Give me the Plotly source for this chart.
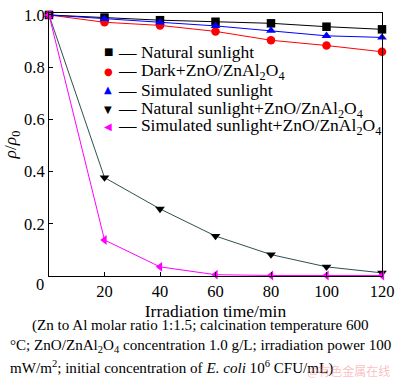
import plotly.graph_objects as go

time_min = [0, 20, 40, 60, 80, 100, 120]
natural = [1.0, 0.99, 0.98, 0.974, 0.968, 0.955, 0.945]
dark_zno = [1.0, 0.972, 0.96, 0.937, 0.903, 0.883, 0.859]
simulated = [1.0, 0.985, 0.972, 0.958, 0.94, 0.92, 0.914]
natural_zno = [1.0, 0.377, 0.257, 0.153, 0.082, 0.035, 0.012]
simulated_zno = [1.0, 0.138, 0.035, 0.005, 0.002, 0.002, 0.002]

legend_names = [
    "Natural sunlight",
    "Dark+ZnO/ZnAl<sub>2</sub>O<sub>4</sub>",
    "Simulated sunlight",
    "Natural sunlight+ZnO/ZnAl<sub>2</sub>O<sub>4</sub>",
    "Simulated sunlight+ZnO/ZnAl<sub>2</sub>O<sub>4</sub>",
]
series_values = [natural, dark_zno, simulated, natural_zno, simulated_zno]
symbols = ["square", "circle", "triangle-up", "triangle-down", "triangle-left"]
glyphs = ["\u25a0", "\u25cf", "\u25b2", "\u25bc", "\u25c0"]
marker_colors = ["black", "red", "blue", "black", "magenta"]
line_colors = ["black", "red", "blue", "#2f4f4f", "magenta"]

FONT = "Liberation Serif, Times New Roman, serif"
L, R, T, B = 49, 13, 6, 105
W, H = 400, 381
PW, PH = W - L - R, H - T - B


def px(x):
    return (x - L) / PW


def py(y):
    return (H - B - y) / PH


fig = go.Figure()
for name, vals, sym, mcol, lcol in zip(legend_names, series_values, symbols, marker_colors, line_colors):
    fig.add_trace(go.Scatter(
        x=time_min, y=vals, mode="lines+markers", name=name, showlegend=False,
        line=dict(color=lcol, width=1),
        marker=dict(symbol=sym, color=mcol, size=8.5),
        cliponaxis=False,
    ))

tickfont = dict(family=FONT, size=16.5, color="black")
fig.update_layout(
    width=W, height=H,
    margin=dict(l=L, r=R, t=T, b=B),
    paper_bgcolor="white", plot_bgcolor="white",
    font=dict(family=FONT, size=17.5, color="black"),
    showlegend=False,
    xaxis=dict(range=[0, 120], tickvals=[20, 40, 60, 80, 100, 120],
               ticks="inside", ticklen=4, tickcolor="black", tickfont=tickfont,
               ticklabeloverflow="allow",
               showline=True, linecolor="black", linewidth=1, mirror=True,
               showgrid=False, zeroline=False,
               title=dict(text="Irradiation time/min", standoff=2,
                          font=dict(family=FONT, size=17.5))),
    yaxis=dict(range=[0, 1.0075], tickvals=[0.2, 0.4, 0.6, 0.8, 1.0],
               ticktext=["0.2", "0.4", "0.6", "0.8", "1.0"],
               ticks="inside", ticklen=4, tickcolor="black", tickfont=tickfont,
               ticklabeloverflow="allow",
               showline=True, linecolor="black", linewidth=1, mirror=True,
               showgrid=False, zeroline=False,
               title=dict(text="<i>ρ</i>/<i>ρ</i><sub>0</sub>", standoff=6,
                          font=dict(family=FONT, size=17.5))),
)

fig.add_annotation(text="0", xref="paper", yref="paper", x=px(46), y=py(285),
                   xanchor="right", yanchor="middle", showarrow=False,
                   font=tickfont)

# legend (marker glyph + dash + label)
legend_rows = [46, 66, 85, 105, 123]
for g, col, name, ry in zip(glyphs, marker_colors, legend_names, legend_rows):
    fig.add_annotation(text=g, xref="paper", yref="paper", x=px(109), y=py(ry),
                       xanchor="center", yanchor="middle", showarrow=False,
                       font=dict(family="DejaVu Sans", size=10, color=col))
    fig.add_annotation(text="\u2014\u00a0" + name, xref="paper", yref="paper",
                       x=px(117), y=py(ry), xanchor="left", yanchor="middle",
                       showarrow=False, font=dict(family=FONT, size=17.5))

caption = [
    (30, 327, "(Zn to Al molar ratio 1:1.5; calcination temperature 600"),
    (7, 348, "°C; ZnO/ZnAl<sub>2</sub>O<sub>4</sub> concentration 1.0 g/L; irradiation power 100"),
    (7, 370, "mW/m<sup>2</sup>; initial concentration of <i>E. coli</i> 10<sup>6</sup> CFU/mL)"),
]
for cx, cy, txt in caption:
    fig.add_annotation(text=txt, xref="paper", yref="paper", x=px(cx), y=py(cy),
                       xanchor="left", yanchor="middle", showarrow=False,
                       font=dict(family=FONT, size=15.1))

fig.add_annotation(text="@有色金属在线", xref="paper", yref="paper",
                   x=px(397), y=py(373), xanchor="right", yanchor="middle",
                   showarrow=False,
                   font=dict(size=12, family="Noto Sans CJK SC", color="rgba(240,110,110,0.45)"))

fig.write_html("out.html", config={"displayModeBar": False},
               post_script="document.body.style.margin='0';")
